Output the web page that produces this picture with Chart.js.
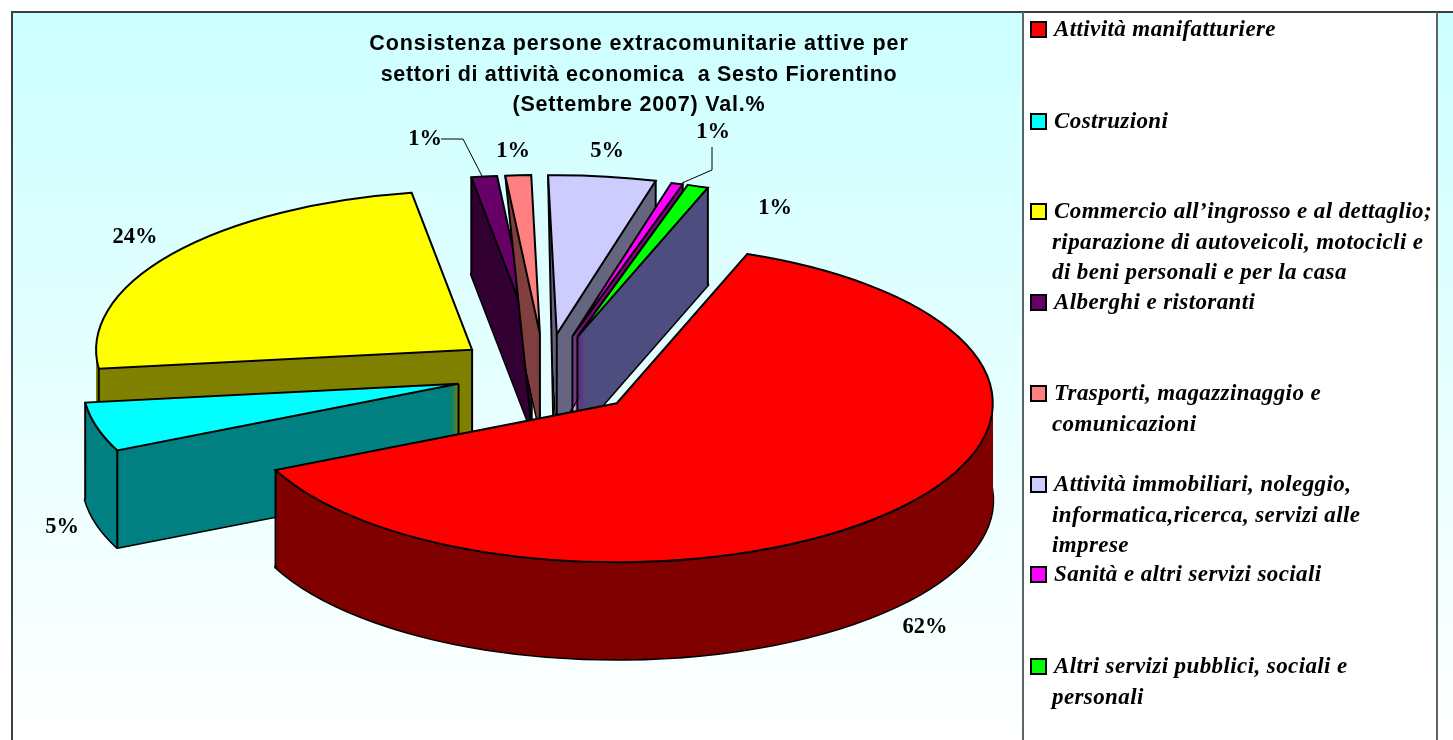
<!DOCTYPE html>
<html lang="it">
<head>
<meta charset="utf-8">
<title>Consistenza persone extracomunitarie attive</title>
<script src="https://cdn.jsdelivr.net/npm/chart.js@4"></script>
<style>
html,body{margin:0;padding:0;background:#fff;overflow:hidden}
canvas{display:block}
</style>
</head>
<body>
<canvas id="c" width="1453" height="740"></canvas>
<script>
const titleLines = [
  "Consistenza persone extracomunitarie attive per",
  "settori di attività economica  a Sesto Fiorentino",
  "(Settembre 2007) Val.%"
];
const categories = [
  "Attività manifatturiere",
  "Costruzioni",
  "Commercio all’ingrosso e al dettaglio; riparazione di autoveicoli, motocicli e di beni personali e per la casa",
  "Alberghi e ristoranti",
  "Trasporti, magazzinaggio e comunicazioni",
  "Attività immobiliari, noleggio, informatica,ricerca, servizi alle imprese",
  "Sanità e altri servizi sociali",
  "Altri servizi pubblici, sociali e personali"
];
const legendLines = [
  ["Attività manifatturiere"],
  ["Costruzioni"],
  ["Commercio all’ingrosso e al dettaglio;", "riparazione di autoveicoli, motocicli e", "di beni personali e per la casa"],
  ["Alberghi e ristoranti"],
  ["Trasporti, magazzinaggio e", "comunicazioni"],
  ["Attività immobiliari, noleggio,", "informatica,ricerca, servizi alle", "imprese"],
  ["Sanità e altri servizi sociali"],
  ["Altri servizi pubblici, sociali e", "personali"]
];
const values = [62.4, 5.0, 24.3, 1.1, 1.1, 4.6, 0.5, 0.9];
const topColors = ["#FF0000", "#00FFFF", "#FFFF00", "#660066", "#FF8080", "#CCCCFF", "#FF00FF", "#00FF00"];
const sideColors = ["#800000", "#008080", "#808000", "#330033", "#804040", "#666680", "#800080", "#4D4D80"];

// Layout of the 3D look (not data)
const SQUISH = 0.423, DEPTH = 97, RADIUS = 376, CX = 547, CY = 373;
const explode = [95, 93, 95, 97, 97, 97, 95, 95];
const nudge = [[0,3],[1,0],[1,1],[-3,2],[-1.5,2],[-2,2],[-1,2],[0,2]];
const narrowFace = {4: {inset: 8, lift: 0}, 5: {inset: 3.5, lift: 10}};
const paintOrder = [3, 4, 5, 6, 7, 2, 1, 0];
const labelSpots = [[925,627],[62,527],[135,237],[425,139],[513,151],[607,151],[713,132],[775,208]];
const legendBaselines = [36, 128, 218, 309, 400, 491, 581, 673];
const titleSpacing = ["0.9px", "0.67px", "0.8px"];
const LINE_H = 30.5;

function place(ctx, arc, ox, oy, d, n) {
  ctx.translate(n[0], d + n[1]);
  ctx.translate(arc.x, arc.y);
  ctx.scale(1, SQUISH);
  ctx.translate(-arc.x, -arc.y);
  ctx.translate(ox, oy);
}
function outline(ctx, arc, ox, oy, d, n, lw, join) {
  ctx.save();
  place(ctx, arc, ox, oy, d, n);
  ctx.beginPath();
  ctx.moveTo(arc.x, arc.y);
  ctx.arc(arc.x, arc.y, arc.outerRadius, arc.startAngle, arc.endAngle);
  ctx.closePath();
  ctx.restore();
  ctx.lineWidth = lw;
  ctx.lineJoin = join;
  ctx.strokeStyle = "#000";
  ctx.stroke();
}
function paintArc(ctx, arc, color, ox, oy, d, n) {
  const saved = arc.options;
  arc.options = Object.assign({}, saved, {backgroundColor: color, borderWidth: 0});
  ctx.save();
  place(ctx, arc, ox, oy, d, n);
  arc.draw(ctx);
  ctx.restore();
  arc.options = saved;
}
function vertical(ctx, x, y) {
  ctx.beginPath();
  ctx.moveTo(x, y);
  ctx.lineTo(x, y + DEPTH);
  ctx.lineWidth = 2;
  ctx.strokeStyle = "#000";
  ctx.stroke();
}

const pie3d = {
  id: "pie3d",
  beforeDraw(chart) {
    const ctx = chart.ctx;
    ctx.save();
    const g = ctx.createLinearGradient(0, 12, 0, 740);
    g.addColorStop(0, "#CCFFFF");
    g.addColorStop(1, "#FFFFFF");
    ctx.fillStyle = "#FFFFFF";
    ctx.fillRect(0, 0, 1453, 740);
    ctx.fillStyle = g;
    ctx.fillRect(12, 12, 1441, 728);
    ctx.fillStyle = "#FFFFFF";
    ctx.fillRect(1023, 12, 414, 728);
    ctx.fillStyle = "#3a3f3f";
    ctx.fillRect(11, 11, 1442, 2);
    ctx.fillRect(11, 11, 2, 729);
    ctx.fillStyle = "#5c6464";
    ctx.fillRect(1022, 12, 2, 728);
    ctx.fillRect(1436, 12, 2, 728);
    ctx.restore();
  },
  beforeDatasetsDraw(chart) {
    const ctx = chart.ctx;
    const arcs = chart.getDatasetMeta(0).data;
    paintOrder.forEach(i => {
      const arc = arcs[i], n = nudge[i];
      const mid = (arc.startAngle + arc.endAngle) / 2;
      const ox = Math.cos(mid) * explode[i], oy = Math.sin(mid) * explode[i];
      const r = arc.outerRadius, a1 = arc.startAngle, a2 = arc.endAngle;
      const tx = arc.x + ox + n[0], ty = arc.y + SQUISH * oy + n[1];
      const sx = t => tx + r * Math.cos(t);
      const sy = t => ty + SQUISH * r * Math.sin(t);
      const nf = narrowFace[i];

      ctx.save();
      if (nf) {
        // This wedge's left cut face tapers to nothing at its rim in the reference
        ctx.beginPath();
        ctx.moveTo(sx(a1), sy(a1));
        ctx.lineTo(tx - nf.inset, ty + DEPTH - nf.lift);
        ctx.lineTo(tx - nf.inset, ty + DEPTH + 3);
        ctx.lineTo(tx + 200, ty + DEPTH + 3);
        ctx.lineTo(tx + 200, sy(a1) - 10);
        ctx.closePath();
        ctx.clip();
      }
      outline(ctx, arc, ox, oy, DEPTH, n, 3, "round");
      for (let d = DEPTH; d >= 0; d--) paintArc(ctx, arc, sideColors[i], ox, oy, d, n);
      ctx.restore();

      const startFace = Math.cos(a1) < 0, endFace = Math.cos(a2) > 0;
      if (startFace || endFace) vertical(ctx, tx, ty);
      if (nf) {
        ctx.beginPath();
        ctx.moveTo(sx(a1), sy(a1));
        ctx.lineTo(tx - nf.inset, ty + DEPTH - nf.lift);
        ctx.lineTo(tx - nf.inset, ty + DEPTH);
        ctx.lineTo(tx, ty + DEPTH);
        ctx.lineWidth = 2;
        ctx.strokeStyle = "#000";
        ctx.stroke();
      } else if (startFace || Math.sin(a1) > 0) {
        vertical(ctx, sx(a1), sy(a1));
      }
      if (endFace || Math.sin(a2) > 0) vertical(ctx, sx(a2), sy(a2));

      paintArc(ctx, arc, topColors[i], ox, oy, 0, n);
      outline(ctx, arc, ox, oy, 0, n, 2, "miter");
    });
    return false;
  },
  afterDraw(chart) {
    const ctx = chart.ctx;
    ctx.save();
    // Title
    ctx.fillStyle = "#000";
    ctx.textAlign = "center";
    ctx.textBaseline = "alphabetic";
    ctx.font = 'bold 21.5px "Liberation Sans"';
    titleLines.forEach((t, i) => {
      ctx.letterSpacing = titleSpacing[i];
      ctx.fillText(t, 639, 50 + i * 30.5);
    });
    ctx.letterSpacing = "0px";
    // Leader lines
    ctx.strokeStyle = "#000";
    ctx.lineWidth = 1;
    ctx.beginPath();
    ctx.moveTo(441, 139); ctx.lineTo(463, 139); ctx.lineTo(482, 176);
    ctx.moveTo(712, 147); ctx.lineTo(712, 170); ctx.lineTo(682, 183);
    ctx.stroke();
    // Percent labels
    ctx.font = 'bold 22.5px "Liberation Serif"';
    ctx.textBaseline = "middle";
    values.forEach((v, i) => ctx.fillText(Math.round(v) + "%", labelSpots[i][0], labelSpots[i][1]));
    // Legend
    ctx.textAlign = "left";
    ctx.textBaseline = "alphabetic";
    ctx.font = 'italic bold 23px "Liberation Serif"';
    ctx.letterSpacing = "0.4px";
    legendLines.forEach((lines, i) => {
      const y = legendBaselines[i];
      ctx.fillStyle = topColors[i];
      ctx.fillRect(1031, y - 14, 15, 15);
      ctx.strokeStyle = "#000";
      ctx.lineWidth = 2;
      ctx.strokeRect(1031, y - 14, 15, 15);
      ctx.fillStyle = "#000";
      lines.forEach((t, j) => ctx.fillText(t, j === 0 ? 1054 : 1052, y + j * LINE_H));
    });
    ctx.restore();
  }
};

new Chart(document.getElementById("c"), {
  type: "pie",
  data: {
    labels: categories,
    datasets: [{ data: values, backgroundColor: topColors, borderWidth: 0 }]
  },
  options: {
    responsive: false,
    animation: false,
    events: [],
    rotation: 20.3,
    radius: RADIUS,
    layout: { padding: { left: 0, right: 1453 - 2 * CX, top: 2 * CY - 740, bottom: 0 } },
    plugins: { legend: { display: false }, title: { display: false }, tooltip: { enabled: false } }
  },
  plugins: [pie3d]
});
</script>
</body>
</html>
